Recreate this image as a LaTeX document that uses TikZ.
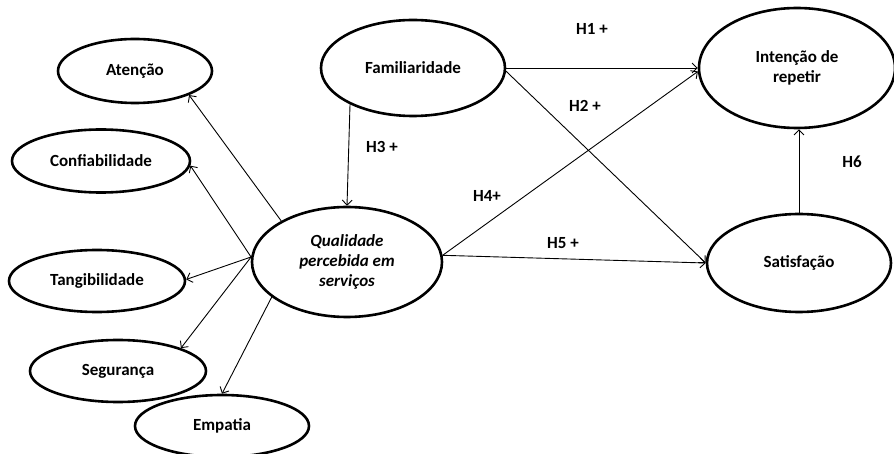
\documentclass[tikz,border=0pt]{standalone}
\usepackage{fontspec}
\setmainfont{Carlito}[BoldFont={* Bold}, BoldItalicFont={* Bold Italic}]
\usetikzlibrary{shapes.geometric,arrows.meta}
\tikzset{
  construct/.style={ellipse, draw, line width=2.6pt, inner sep=0pt, font=\fontsize{17}{20}\selectfont\bfseries, align=center},
  link/.style={line width=0.9pt, -{Straight Barb[length=5pt,width=10pt,line width=0.9pt]}},
  hlabel/.style={font=\fontsize{17}{20}\selectfont\bfseries, inner sep=0pt}
}
\begin{document}
\begin{tikzpicture}[x=1pt,y=-1pt]
\useasboundingbox (0,0) rectangle (894,454);
\node[construct, minimum width=154pt, minimum height=64pt] (aten) at (135,71) {Atenção};
\node[construct, minimum width=178pt, minimum height=63pt] (conf) at (101,161) {Confiabilidade};
\node[construct, minimum width=176pt, minimum height=62pt] (tang) at (97,281) {Tangibilidade};
\node[construct, minimum width=176pt, minimum height=62pt] (seg) at (118,371) {Segurança};
\node[construct, minimum width=174pt, minimum height=62pt] (emp) at (222,426) {Empatia};
\node[construct, minimum width=184pt, minimum height=96pt] (fam) at (413,68) {Familiaridade};
\node[construct, minimum width=190pt, minimum height=110pt, font=\fontsize{17}{20}\selectfont\bfseries\itshape] (qual) at (347,262) {Qualidade\\percebida em\\serviços};
\node[construct, minimum width=196pt, minimum height=120pt] (int) at (797,68) {Intenção de\\repetir};
\node[construct, minimum width=184pt, minimum height=98pt] (sat) at (799,263) {Satisfação};

\draw[link] (qual.148) -- (aten.-24);
\draw[link] (qual.177) -- (conf.-3);
\draw[link] (qual.177) -- (tang.1);
\draw[link] (qual.177) -- (seg.20);
\draw[link] (qual.205) -- (emp.90);
\draw[link] (fam.210) -- (qual.90);
\draw[link] (fam.east) -- (int.west);
\draw[link] (fam.-2) -- (sat.180);
\draw[link] (qual.4) -- (int.182);
\draw[link] (qual.4) -- (sat.180);
\draw[link] (sat.north) -- (sat.north |- int.south);

\node[hlabel] (h1) at (592,29) {H1 +};
\node[hlabel] (h2) at (585,106) {H2 +};
\node[hlabel] (h3) at (382,147) {H3 +};
\node[hlabel] (h4) at (487,196) {H4+};
\node[hlabel] (h5) at (563,243) {H5 +};
\node[hlabel] (h6) at (852,162) {H6};
\end{tikzpicture}
\end{document}
